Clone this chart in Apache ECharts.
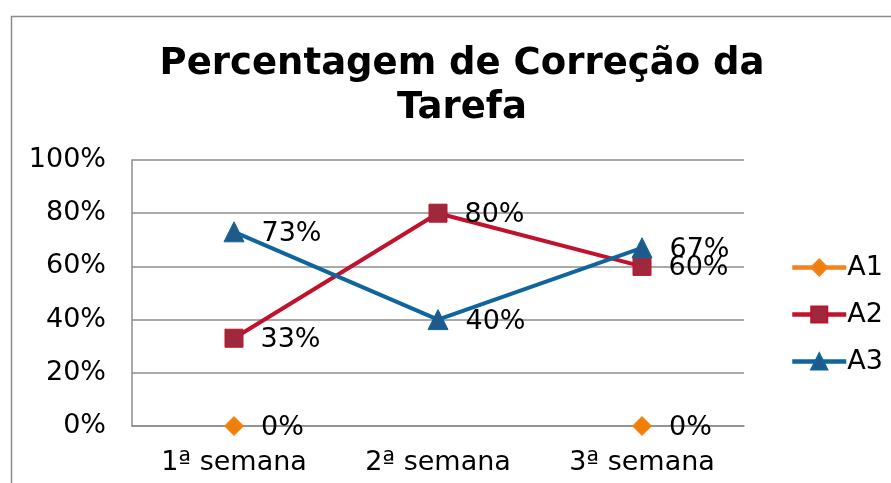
<!DOCTYPE html>
<html>
<head>
<meta charset="utf-8">
<script src="https://cdn.jsdelivr.net/npm/echarts@6/dist/echarts.min.js"></script>
<style>
  html, body { margin: 0; padding: 0; background: #fff; }
  #chart { width: 891px; height: 483px; }
</style>
</head>
<body>
<div id="chart"></div>
<script>
// data
const semanas = ["1ª semana", "2ª semana", "3ª semana"];
const a1 = [0, null, 0];
const a2 = [33, 80, 60];
const a3 = [73, 40, 67];
const yTicks = [0, 20, 40, 60, 80, 100];

const font = "DejaVu Sans, Verdana, sans-serif";

const lineSeries = (name, data, color, symbol, fill, size) => ({
  name: name,
  type: "line",
  data: data,
  symbol: symbol,
  symbolSize: size,
  connectNulls: false,
  lineStyle: { color: color, width: 4 },
  itemStyle: { color: fill, borderColor: color, borderWidth: 1 },
  label: {
    show: true,
    position: "right",
    distance: 17,
    offset: [0, 2],
    formatter: p => p.value + "%",
    color: "#000",
    fontFamily: font,
    fontSize: 27
  },
  emphasis: { disabled: true },
  animation: false
});

const chart = echarts.init(document.getElementById("chart"));
chart.setOption({
  animation: false,
  title: {
    text: "Percentagem de Correção da\nTarefa",
    left: 457,
    textAlign: "center",
    top: 37,
    textStyle: { fontFamily: font, fontWeight: "bold", fontSize: 37, lineHeight: 44, color: "#000" }
  },
  graphic: [{
    type: "rect",
    left: 9, top: 14,
    shape: { width: 900, height: 500 },
    style: { fill: null, stroke: "#8c8c8c", lineWidth: 1.5 },
    silent: true
  }],
  grid: { left: 132, right: 147, top: 160, bottom: 57 },
  legend: {
    orient: "vertical",
    left: 785,
    top: 249,
    itemWidth: 54,
    itemHeight: 20,
    itemGap: 20,
    lineStyle: { width: 4.5 },
    textStyle: { fontFamily: font, fontSize: 27, color: "#000", padding: [0, 0, 0, -4] },
    data: ["A1", "A2", "A3"]
  },
  xAxis: {
    type: "category",
    data: semanas,
    axisLine: { lineStyle: { color: "#8c8c8c", width: 1.5 } },
    axisTick: { show: false },
    axisLabel: { fontFamily: font, fontSize: 27, color: "#000", margin: 23 }
  },
  yAxis: {
    type: "value",
    min: yTicks[0],
    max: yTicks[yTicks.length - 1],
    interval: 20,
    axisLine: { show: true, lineStyle: { color: "#8c8c8c", width: 1.5 } },
    axisTick: { show: false },
    splitLine: { lineStyle: { color: "#8c8c8c", width: 1.5 } },
    axisLabel: { fontFamily: font, fontSize: 27, color: "#000", margin: 26, formatter: v => v + "%" }
  },
  series: [
    lineSeries("A1", a1, "#f58220", "diamond", "#f07f09", 19),
    lineSeries("A2", a2, "#c0112d", "rect", "#a0283c", 18),
    lineSeries("A3", a3, "#10659c", "triangle", "#1f5a8a", 20)
  ]
});
</script>
</body>
</html>
